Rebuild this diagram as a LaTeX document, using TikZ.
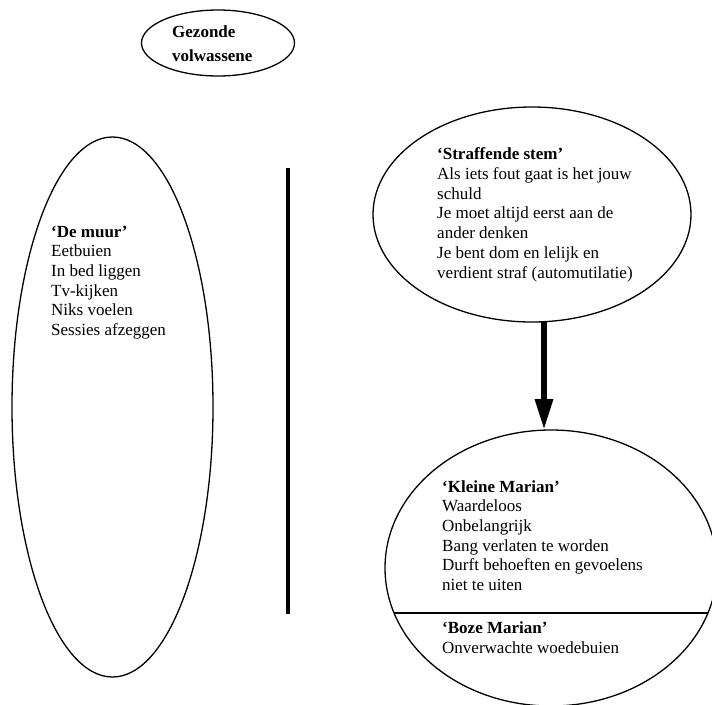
\documentclass[tikz,border=0pt]{standalone}
\usepackage{fontspec}
\setmainfont{Liberation Serif}
\usetikzlibrary{shapes.geometric,arrows.meta}
\begin{document}
\begin{tikzpicture}[x=1pt,y=-1pt,
  oval/.style={ellipse,draw,line width=1.3pt,inner sep=0pt,outer sep=0pt},
  txt/.style={anchor=base west,inner sep=0pt,align=left,font=\fontsize{17}{19.7}\selectfont},
  arr/.style={line width=6pt,-{Triangle[width=17pt,length=31pt]}},
  wall/.style={line width=4pt},
  divider/.style={line width=1.3pt}]
\useasboundingbox (0,0) rectangle (712,704);
\clip (0,0) rectangle (712,704);
% ellipses
\node[oval,minimum width=153pt,minimum height=66pt] (gv) at (218,43) {};
\node[oval,minimum width=201pt,minimum height=540pt] (muur) at (112.5,407) {};
\node[oval,minimum width=318pt,minimum height=215pt] (stem) at (532,214.5) {};
\node[oval,minimum width=332pt,minimum height=276pt] (kleine) at (551,568) {};
% texts (anchored at the baseline of their last line)
\node[txt,font=\fontsize{17}{24}\selectfont\bfseries] (tgv) at (172,61) {Gezonde\\volwassene};
\node[txt] (tmuur) at (51,335.5) {\textbf{‘De muur’}\\Eetbuien\\In bed liggen\\Tv-kijken\\Niks voelen\\Sessies afzeggen};
\node[txt] (tstem) at (437,278) {\textbf{‘Straffende stem’}\\Als iets fout gaat is het jouw\\schuld\\Je moet altijd eerst aan de\\ander denken\\Je bent dom en lelijk en\\verdient straf (automutilatie)};
\node[txt] (tkleine) at (442,590.5) {\textbf{‘Kleine Marian’}\\Waardeloos\\Onbelangrijk\\Bang verlaten te worden\\Durft behoeften en gevoelens\\niet te uiten};
\node[txt] (tboze) at (442,653) {\textbf{‘Boze Marian’}\\Onverwachte woedebuien};
% wall
\coordinate (w1) at (288,168);
\coordinate (w2) at (288,614);
\draw[wall] (w1) -- (w2);
% divider
\draw[divider] (kleine.196.8) -- (kleine.-16.8);
% arrow
\draw[arr] ([xshift=12pt]stem.south) -- ([xshift=-7pt]kleine.north);
\end{tikzpicture}
\end{document}
